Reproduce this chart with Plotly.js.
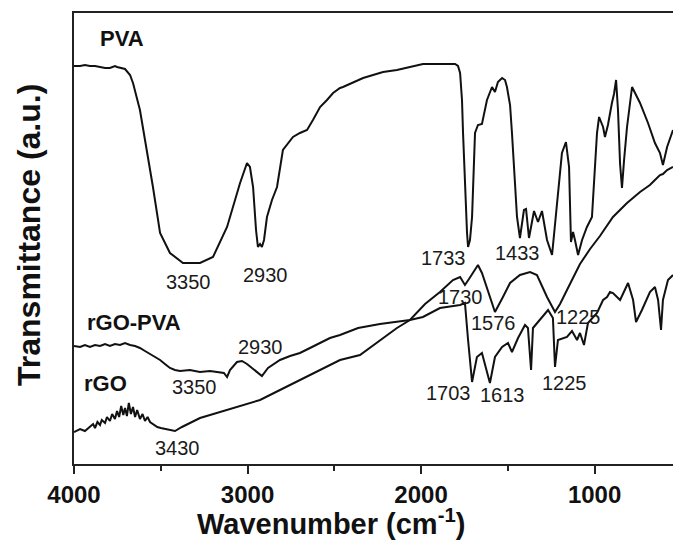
<!DOCTYPE html>
<html>
<head>
<meta charset="utf-8">
<script src="https://cdn.plot.ly/plotly-3.0.1.min.js"></script>
<style>html,body{margin:0;padding:0;background:#fff;}#chart{width:673px;height:543px;}</style>
</head>
<body>
<div id="chart"></div>
<script>
// Wavenumbers (cm^-1) and transmittance (a.u., offset per curve)
const pvaX = [4000,3965,3937,3908,3879,3850,3821,3793,3764,3752,3735,3706,3677,3660,3620,3579,3545,3504,3447,3372,3274,3199,3118,3043,3003,2986,2968,2951,2940,2928,2917,2905,2888,2859,2830,2796,2767,2738,2698,2657,2623,2582,2542,2507,2467,2450,2334,2219,2139,1989,1804,1787,1775,1764,1758,1747,1735,1729,1718,1706,1695,1689,1672,1649,1620,1591,1574,1557,1533,1516,1505,1487,1476,1459,1447,1430,1407,1395,1378,1349,1326,1303,1274,1245,1234,1216,1188,1165,1147,1136,1124,1113,1095,1072,1044,1015,997,986,974,951,940,923,900,888,876,865,853,842,830,813,784,738,692,652,623,606,582,548];
const pvaY = [398,398,399,398,398,397,396,396,398,397,396,395,389,381,354,314,277,231,211,201,201,207,237,281,301,297,277,234,217,220,217,224,247,264,277,314,321,327,331,334,344,357,364,371,376,377,386,392,394,400,400,398,391,364,331,274,231,217,224,247,304,331,339,340,364,377,372,382,386,384,377,359,331,284,247,226,254,255,226,253,242,253,224,209,229,264,311,322,297,222,232,224,209,224,237,247,294,331,347,337,327,339,361,370,384,354,300,276,304,337,377,361,341,321,311,299,317,334];

const rgoPvaX = [4000,3965,3937,3908,3879,3850,3821,3793,3764,3735,3706,3677,3648,3620,3591,3562,3533,3504,3476,3447,3418,3389,3332,3274,3216,3159,3136,3118,3101,3061,3032,3003,2957,2917,2882,2813,2755,2698,2640,2582,2525,2467,2363,2237,2139,2064,1989,1891,1775,1747,1729,1706,1678,1649,1620,1603,1574,1533,1499,1476,1441,1401,1384,1366,1355,1314,1268,1240,1228,1211,1159,1130,1101,1084,1061,1038,1009,986,951,928,911,894,853,807,778,761,727,681,652,634,617,606,577,548];
const rgoPvaY = [118,117,119,117,119,118,120,118,120,119,121,119,118,116,113,110,107,104,100,96,94,93,94,92,93,92,91,87,94,102,103,100,94,88,96,104,108,111,116,121,126,129,136,140,142,144,147,156,159,161,124,82,107,111,92,81,107,117,121,112,126,139,136,94,136,144,154,146,97,124,127,133,124,131,119,141,146,151,164,167,172,171,164,181,164,142,154,172,177,164,134,164,184,189];

const rgoX = [4000,3965,3937,3908,3890,3879,3865,3850,3840,3821,3810,3793,3780,3764,3752,3740,3728,3716,3706,3695,3684,3672,3660,3648,3636,3620,3605,3591,3576,3562,3545,3520,3500,3476,3458,3418,3378,3331,3274,3216,3101,2928,2813,2698,2582,2525,2467,2352,2237,2139,2064,1977,1891,1816,1775,1747,1720,1672,1649,1610,1574,1528,1487,1430,1372,1332,1274,1228,1199,1159,1113,1084,1026,969,894,813,738,681,652,623,606,582,548];
const rgoY = [32,35,33,37,40,36,42,39,44,41,47,43,50,45,53,47,58,49,56,48,61,50,57,47,54,45,50,43,47,42,40,37,36,35,34,33,37,41,46,49,55,64,74,84,94,99,104,109,124,136,144,160,172,184,187,179,186,199,191,170,152,167,181,189,192,189,167,152,160,174,190,200,215,228,247,261,272,279,284,289,290,294,297];

const curveLabels = ["PVA","rGO-PVA","rGO"];
const curveLabelX = [3723,3654,3821];
const curveLabelY = [426,142,81];

const peakText = ["3350","2930","2930","3350","3430","1733","1433","1730","1576","1225","1703","1613","1225"];
const peakX = [3343,2894,2928,3308,3401,1868,1447,1770,1580,1095,1839,1533,1176];
const peakY = [182,189,117,77,16,206,211,167,141,147,71,69,81];

const xTicks = [4000,3000,2000,1000];
const xMinor = [3500,2500,1500];

const FONT = "Liberation Sans, Arial, sans-serif";
const lineStyle = {color:"#111", width:2};

const traces = [
  {x:pvaX, y:pvaY, mode:"lines", line:lineStyle, name:"PVA", hoverinfo:"skip"},
  {x:rgoPvaX, y:rgoPvaY, mode:"lines", line:lineStyle, name:"rGO-PVA", hoverinfo:"skip"},
  {x:rgoX, y:rgoY, mode:"lines", line:lineStyle, name:"rGO", hoverinfo:"skip"}
];

const annotations = [];
curveLabels.forEach((t,i)=>annotations.push({x:curveLabelX[i], y:curveLabelY[i], xref:"x", yref:"y", text:"<b>"+t+"</b>", showarrow:false, xanchor:"center", yanchor:"middle", font:{family:FONT, size:22, color:"#111"}}));
peakText.forEach((t,i)=>annotations.push({x:peakX[i], y:peakY[i], xref:"x", yref:"y", text:t, showarrow:false, xanchor:"center", yanchor:"middle", font:{family:FONT, size:20, color:"#1a1a1a"}}));
annotations.push({x:0.429, y:-0.128, xref:"paper", yref:"paper", text:"<b>Wavenumber (cm<sup>-1</sup>)</b>", showarrow:false, xanchor:"center", yanchor:"middle", font:{family:FONT, size:29, color:"#111"}});
annotations.push({x:-0.075, y:0.508, xref:"paper", yref:"paper", text:"<b>Transmittance (a.u.)</b>", textangle:-90, showarrow:false, xanchor:"center", yanchor:"middle", font:{family:FONT, size:32, color:"#111"}});

const layout = {
  width:673, height:543,
  margin:{l:74, r:0, t:13, b:79},
  paper_bgcolor:"#fff", plot_bgcolor:"#fff",
  showlegend:false,
  xaxis:{range:[4000,548], tickvals:xTicks, ticktext:xTicks.map(String), ticks:"outside", ticklen:8, tickwidth:2, tickcolor:"#222",
    minor:{tickvals:xMinor, ticks:"outside", ticklen:5, tickwidth:2, tickcolor:"#222"},
    showline:true, linewidth:2, linecolor:"#222", mirror:true, showgrid:false, zeroline:false,
    tickfont:{family:FONT, size:24, color:"#111", weight:"bold"}},
  yaxis:{range:[0,451], showline:true, linewidth:2, linecolor:"#222", showticklabels:false, ticks:"", showgrid:false, zeroline:false},
  annotations:annotations
};

Plotly.newPlot("chart", traces, layout, {staticPlot:true, displayModeBar:false});
</script>
</body>
</html>
